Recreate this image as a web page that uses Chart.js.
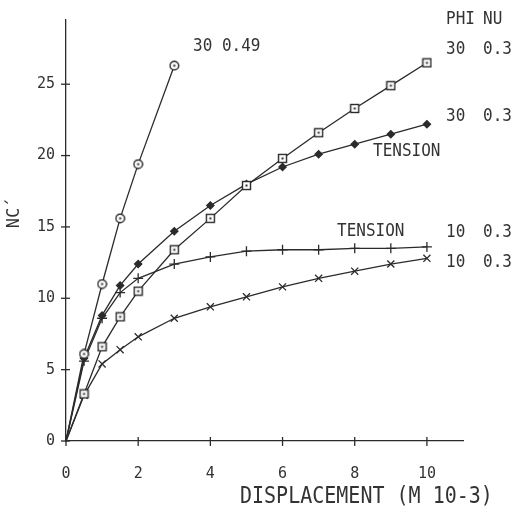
<!DOCTYPE html>
<html>
<head>
<meta charset="utf-8">
<script src="https://cdn.jsdelivr.net/npm/chart.js@4/dist/chart.umd.min.js"></script>
<style>
  html, body { margin: 0; padding: 0; background: #fff; }
  #wrap { width: 512px; height: 515px; }
</style>
</head>
<body>
<div id="wrap"><canvas id="grafico"></canvas></div>
<script>
// valores
const xTicks = [0, 2, 4, 6, 8, 10];
const yTicks = [0, 5, 10, 15, 20, 25];

const dispCurta = [0, 0.5, 1, 1.5, 2, 3];
const ncPhi30Nu049 = [0, 6.1, 11.0, 15.6, 19.4, 26.3];

const disp = [0, 0.5, 1, 1.5, 2, 3, 4, 5, 6, 7, 8, 9, 10];
const ncPhi30Nu03 = [0, 3.3, 6.6, 8.7, 10.5, 13.4, 15.6, 17.9, 19.8, 21.6, 23.3, 24.9, 26.5];
const ncPhi30Tension = [0, 5.8, 8.8, 10.9, 12.4, 14.7, 16.5, 18.0, 19.2, 20.1, 20.8, 21.5, 22.2];
const ncPhi10Tension = [0, 5.6, 8.6, 10.4, 11.4, 12.4, 12.9, 13.3, 13.4, 13.4, 13.5, 13.5, 13.6];
const ncPhi10Nu03 = [0, 3.2, 5.4, 6.4, 7.3, 8.6, 9.4, 10.1, 10.8, 11.4, 11.9, 12.4, 12.8];

const COR = '#2b2b2b';
const FONTE = '"DejaVu Sans Mono", monospace';

function pontos(xs, ys) {
  return xs.map((x, i) => ({ x: x, y: ys[i] }));
}

// marcadores com ponto central (quadrado e circulo)
function marcador(tipo) {
  const c = document.createElement('canvas');
  c.width = 11; c.height = 11;
  const g = c.getContext('2d');
  g.strokeStyle = COR;
  g.fillStyle = '#fff';
  g.lineWidth = 1.4;
  if (tipo === 'quadrado') {
    g.fillRect(1.5, 1.5, 8, 8);
    g.strokeRect(1.5, 1.5, 8, 8);
  } else {
    g.beginPath();
    g.arc(5.5, 5.5, 4.3, 0, Math.PI * 2);
    g.fill();
    g.stroke();
  }
  g.fillStyle = COR;
  g.fillRect(4.5, 4.5, 2, 2);
  return c;
}

const mkQuadrado = marcador('quadrado');
const mkCirculo = marcador('circulo');

function serie(xs, ys, estilo, raio, preenchido) {
  return {
    data: pontos(xs, ys),
    borderColor: COR,
    borderWidth: 1.3,
    backgroundColor: preenchido ? COR : '#fff',
    pointBorderColor: COR,
    pointBorderWidth: 1.3,
    pointStyle: estilo,
    pointRadius: ctx => ctx.dataIndex === 0 ? 0 : raio,
    tension: 0,
    clip: false
  };
}

// texto um pouco esticado na vertical, como a fonte do plotter
function texto(g, s, x, y, tam, esticar) {
  g.save();
  g.translate(x, y);
  g.scale(1, esticar);
  g.font = tam + 'px ' + FONTE;
  g.fillText(s, 0, 0);
  g.restore();
}

// marcas de escala cruzando os eixos + textos
const anotacoes = {
  id: 'anotacoes',
  beforeDraw(chart) {
    const g = chart.ctx;
    g.save();
    g.fillStyle = '#fff';
    g.fillRect(0, 0, chart.width, chart.height);
    g.restore();
  },
  afterDraw(chart) {
    const g = chart.ctx;
    const sx = chart.scales.x, sy = chart.scales.y;
    const x0 = sx.getPixelForValue(0), y0 = sy.getPixelForValue(0);
    g.save();
    g.strokeStyle = COR;
    g.lineWidth = 1.3;
    yTicks.forEach(v => {
      const py = sy.getPixelForValue(v);
      g.beginPath(); g.moveTo(x0 - 5, py); g.lineTo(x0 + 4, py); g.stroke();
    });
    xTicks.forEach(v => {
      const px = sx.getPixelForValue(v);
      g.beginPath(); g.moveTo(px, y0 - 4); g.lineTo(px, y0 + 5); g.stroke();
    });

    g.fillStyle = '#333';
    g.textBaseline = 'middle';
    g.textAlign = 'left';
    texto(g, '30 0.49', 193, 46, 16, 1.12);
    texto(g, 'PHI', 446, 19, 16, 1.12);
    texto(g, 'NU', 483, 19, 16, 1.12);
    const linhas = [['30', '0.3', 49], ['30', '0.3', 116], ['10', '0.3', 232], ['10', '0.3', 262]];
    linhas.forEach(l => {
      texto(g, l[0], 446, l[2], 16, 1.12);
      texto(g, l[1], 483, l[2], 16, 1.12);
    });
    texto(g, 'TENSION', 373, 151, 16, 1.12);
    texto(g, 'TENSION', 337, 231, 16, 1.12);

    texto(g, 'DISPLACEMENT (M 10-3)', 240, 497, 20, 1.15);

    g.translate(15, 213);
    g.rotate(-Math.PI / 2);
    g.textAlign = 'center';
    g.font = '17px ' + FONTE;
    g.fillText('NC\u00B4', 0, 0);
    g.restore();
  }
};

new Chart(document.getElementById('grafico'), {
  type: 'line',
  data: {
    datasets: [
      serie(dispCurta, ncPhi30Nu049, mkCirculo, 5, false),
      serie(disp, ncPhi30Nu03, mkQuadrado, 5, false),
      serie(disp, ncPhi30Tension, 'rectRot', 3.6, true),
      serie(disp, ncPhi10Tension, 'cross', 5, false),
      serie(disp, ncPhi10Nu03, 'crossRot', 5, false)
    ]
  },
  options: {
    responsive: true,
    maintainAspectRatio: false,
    animation: false,
    layout: { padding: { left: 0, top: 9, right: 49, bottom: 0 } },
    plugins: {
      legend: { display: false },
      tooltip: { enabled: false }
    },
    scales: {
      x: {
        type: 'linear',
        min: 0,
        max: 11,
        afterBuildTicks: s => { s.ticks = xTicks.map(v => ({ value: v })); },
        afterFit: s => { s.height = 74; },
        grid: { display: false, drawTicks: false },
        border: { display: true, color: COR, width: 1.3 },
        ticks: { padding: 24, color: '#333', font: { family: FONTE, size: 15 } }
      },
      y: {
        type: 'linear',
        min: 0,
        max: 29.5,
        afterBuildTicks: s => { s.ticks = yTicks.map(v => ({ value: v })); },
        afterFit: s => { s.width = 66; },
        grid: { display: false, drawTicks: false },
        border: { display: true, color: COR, width: 1.3 },
        ticks: { padding: 11, color: '#333', font: { family: FONTE, size: 15 } }
      }
    }
  },
  plugins: [anotacoes]
});
</script>
</body>
</html>
